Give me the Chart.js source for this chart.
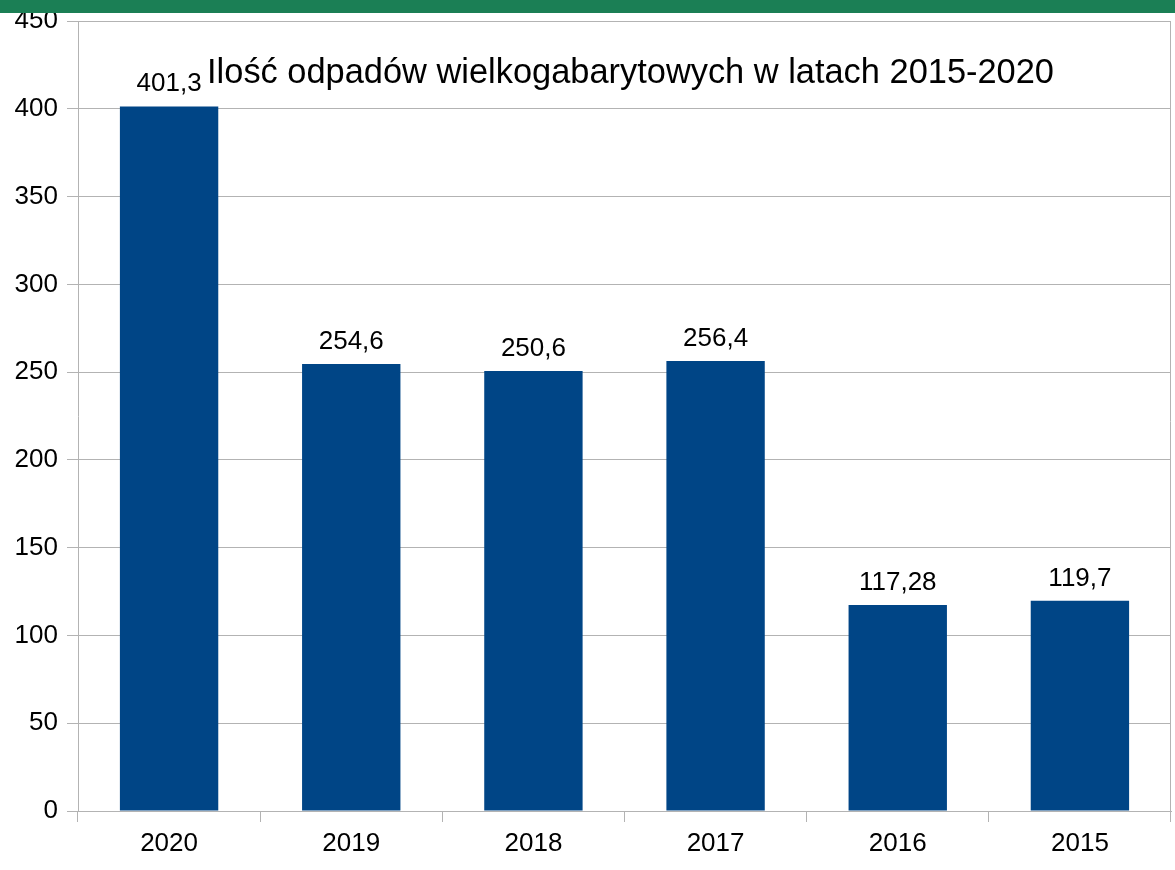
<!DOCTYPE html>
<html>
<head>
<meta charset="utf-8">
<script src="https://cdn.jsdelivr.net/npm/chart.js@4"></script>
<style>
  html, body { margin: 0; padding: 0; background: #ffffff; }
  #wrap { position: relative; width: 1175px; height: 870px; }
  #band { position: absolute; left: 0; top: 0; width: 1175px; height: 13px; background: #1b7f55; }
  canvas { display: block; }
</style>
</head>
<body>
<div id="wrap">
  <canvas id="c" width="1175" height="870"></canvas>
  <div id="band"></div>
</div>
<script>
const categories = ["2020", "2019", "2018", "2017", "2016", "2015"];
const values = [401.3, 254.6, 250.6, 256.4, 117.28, 119.7];
const yTicks = [0, 50, 100, 150, 200, 250, 300, 350, 400, 450];
const chartTitle = "Ilość odpadów wielkogabarytowych w latach 2015-2020";

const FONT = "'Liberation Sans', Arial, sans-serif";

const labelPlugin = {
  id: 'valueLabels',
  afterDatasetsDraw(chart) {
    const ctx = chart.ctx;
    const meta = chart.getDatasetMeta(0);
    ctx.save();
    ctx.font = "26px " + FONT;
    ctx.fillStyle = "#000000";
    ctx.textAlign = "center";
    ctx.textBaseline = "alphabetic";
    meta.data.forEach((bar, i) => {
      const txt = String(values[i]).replace('.', ',');
      ctx.fillText(txt, bar.x, bar.y - 15);
    });
    ctx.restore();
  }
};

const titlePlugin = {
  id: 'innerTitle',
  afterDraw(chart) {
    const ctx = chart.ctx;
    const a = chart.chartArea;
    ctx.save();
    ctx.font = "34.4px " + FONT;
    ctx.fillStyle = "#000000";
    ctx.textAlign = "center";
    ctx.textBaseline = "alphabetic";
    ctx.fillText(chartTitle, a.left + (a.right - a.left) * 0.5055, a.top + 62);
    ctx.strokeStyle = "#b3b3b3";
    ctx.lineWidth = 1;
    const x = Math.round(a.right) - 0.5;
    ctx.beginPath();
    ctx.moveTo(x, a.top);
    ctx.lineTo(x, a.bottom + 11);
    ctx.stroke();
    ctx.restore();
  }
};

new Chart(document.getElementById('c'), {
  type: 'bar',
  data: {
    labels: categories,
    datasets: [{
      data: values,
      backgroundColor: '#004586',
      borderWidth: 0,
      barPercentage: 0.54,
      categoryPercentage: 1.0
    }]
  },
  options: {
    responsive: false,
    animation: false,
    layout: { padding: { top: 21, right: 4, left: 0, bottom: 0 } },
    plugins: { legend: { display: false }, title: { display: false }, tooltip: { enabled: false } },
    scales: {
      x: {
        grid: { display: true, drawOnChartArea: false, drawTicks: true, tickLength: 11, color: '#b3b3b3', offset: true },
        border: { display: true, color: '#b3b3b3' },
        ticks: { color: '#000000', font: { family: FONT, size: 26 }, padding: 6 },
        afterFit(scale) { scale.height = 59; scale.paddingLeft = 0; scale.paddingRight = 0; }
      },
      y: {
        min: 0,
        max: 450,
        afterBuildTicks(scale) { scale.ticks = yTicks.map(v => ({ value: v })); },
        grid: { color: '#b3b3b3', tickLength: 11, drawTicks: true },
        border: { display: true, color: '#b3b3b3' },
        ticks: { color: '#000000', font: { family: FONT, size: 26 }, padding: 9 },
        afterFit(scale) { scale.width = 78; scale.paddingTop = 0; scale.paddingBottom = 0; }
      }
    }
  },
  plugins: [labelPlugin, titlePlugin]
});
</script>
</body>
</html>
